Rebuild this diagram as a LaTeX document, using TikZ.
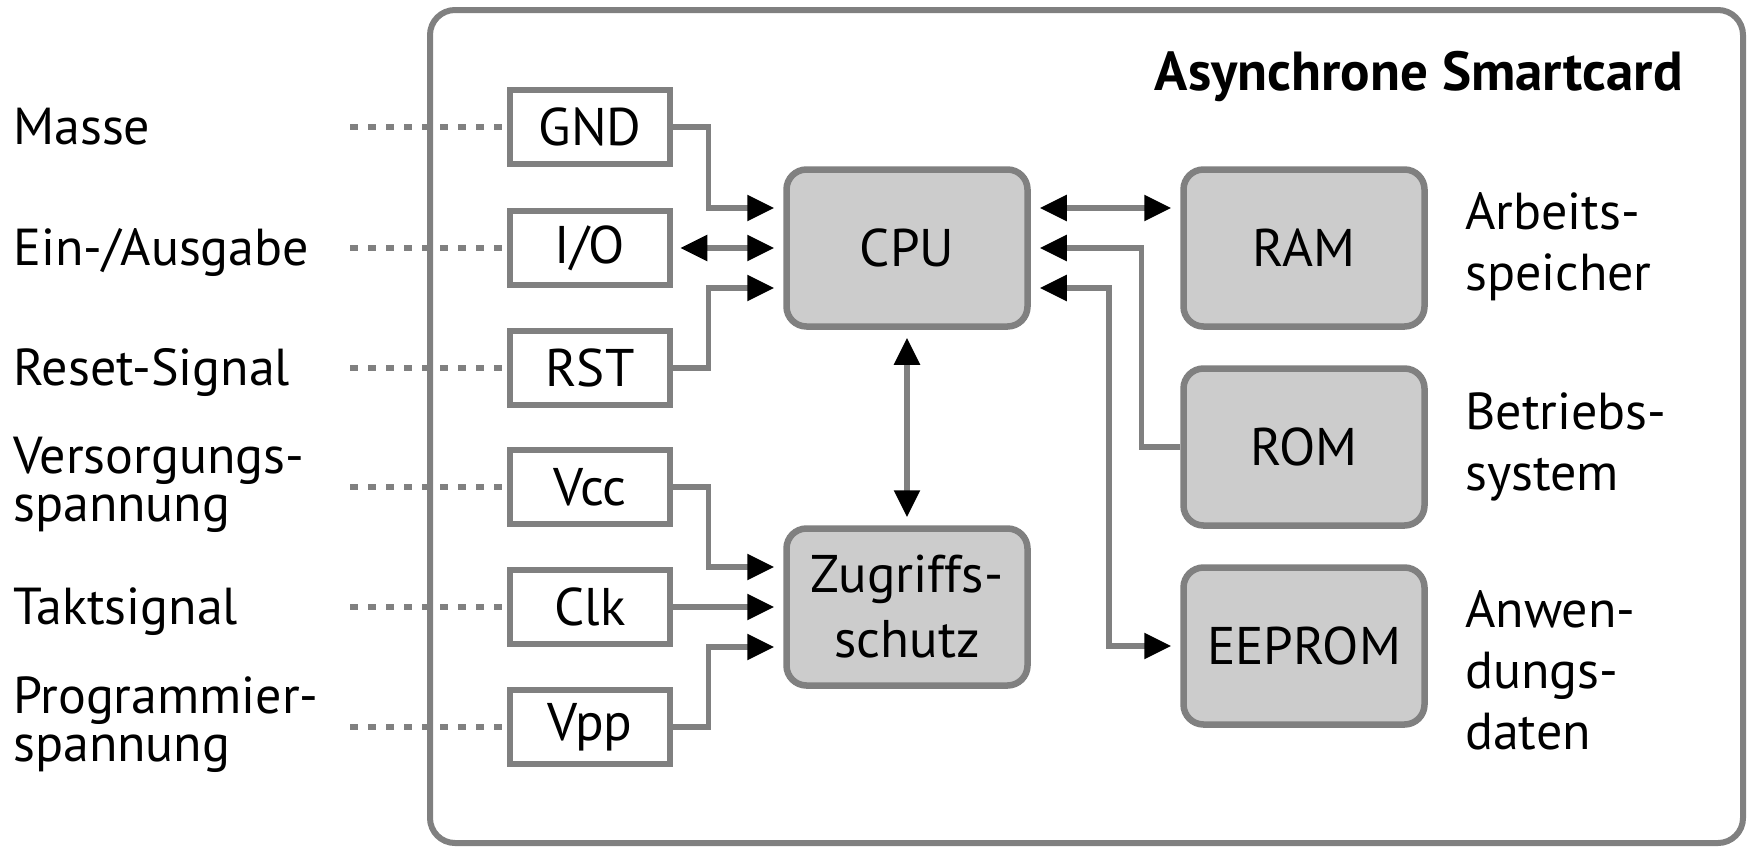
\documentclass[tikz,border=0pt]{standalone}
\usepackage{fontspec}
\setmainfont{PT Sans}
\usetikzlibrary{arrows.meta,calc}
\definecolor{lgray}{HTML}{808080}
\definecolor{boxfill}{HTML}{CCCCCC}
\tikzset{
  tip/.tip={Triangle[length=27pt,width=25pt,color=black]},
  conn/.style={draw=lgray, line width=5.5pt},
  pin/.style={draw=lgray, line width=6.5pt, fill=white, minimum width=160pt, minimum height=74pt, inner sep=0pt, font=\fontsize{53}{53}\selectfont},
  unit/.style={draw=lgray, fill=boxfill, rounded corners=20pt, line width=6.5pt, minimum width=241pt, minimum height=157pt, inner sep=0pt, align=center, font=\fontsize{53}{65}\selectfont},
  dotline/.style={draw=lgray, line width=6pt, dash pattern=on 8pt off 10pt},
  lab/.style={anchor=base west, inner sep=0pt, align=left, font=\fontsize{52}{48}\selectfont},
  rlab/.style={anchor=base west, inner sep=0pt, align=left, font=\fontsize{52}{61}\selectfont},
}
\begin{document}
\begin{tikzpicture}[x=1pt,y=-1pt]
\useasboundingbox (0,0) rectangle (1750,847);
\draw[draw=lgray, line width=6pt, rounded corners=25pt] (430,10) rectangle (1743,843);
\node[anchor=base east, inner sep=0pt, font=\fontsize{55}{55}\selectfont\bfseries] (title) at (1683,90) {Asynchrone Smartcard};
% pins
\node[pin] (gnd) at (590,127) {GND};
\node[pin] (io)  at (590,248) {I/O};
\node[pin] (rst) at (590,368) {RST};
\node[pin] (vcc) at (590,487) {Vcc};
\node[pin] (clk) at (590,607) {Clk};
\node[pin] (vpp) at (590,727) {Vpp};
% units
\node[unit] (cpu) at (907,248) {CPU};
\node[unit] (zug) at (907,607) {Zugriffs-\\schutz};
\node[unit] (ram) at (1304,248) {RAM};
\node[unit] (rom) at (1304,447) {ROM};
\node[unit] (eep) at (1304,646) {EEPROM};
% left labels (base = last line)
\node[lab] (lgnd) at (13,144) {Masse};
\node[lab] (lio)  at (13,265) {Ein-/Ausgabe};
\node[lab] (lrst) at (13,385) {Reset-Signal};
\node[lab] (lvcc) at (13,521) {Versorgungs-\\spannung};
\node[lab] (lclk) at (13,624) {Taktsignal};
\node[lab] (lvpp) at (13,761) {Programmier-\\spannung};
% right labels (base = last line)
\node[rlab] (lram) at (1465,290) {Arbeits-\\speicher};
\node[rlab] (lrom) at (1465,490) {Betriebs-\\system};
\node[rlab] (leep) at (1465,749) {Anwen-\\dungs-\\daten};
% dotted leads
\foreach \n in {gnd,io,rst,vcc,clk,vpp}{
  \coordinate (d\n) at (350,0 |- \n.west);
  \draw[dotline] (d\n) -- (\n.west);
}
% connectors to CPU
\draw[conn,-{tip},shorten >=9pt] (gnd.east) -- ++(35,0) |- ($(cpu.west)+(0,-40)$);
\draw[conn,{tip}-{tip},shorten >=9pt,shorten <=7pt] (io.east) -- (cpu.west);
\draw[conn,-{tip},shorten >=9pt] (rst.east) -- ++(35,0) |- ($(cpu.west)+(0,40)$);
% connectors to Zugriffsschutz
\draw[conn,-{tip},shorten >=9pt] (vcc.east) -- ++(35,0) |- ($(zug.west)+(0,-40)$);
\draw[conn,-{tip},shorten >=9pt] (clk.east) -- (zug.west);
\draw[conn,-{tip},shorten >=9pt] (vpp.east) -- ++(35,0) |- ($(zug.west)+(0,40)$);
\draw[conn,{tip}-{tip},shorten >=8pt,shorten <=8pt] (cpu.south) -- (zug.north);
% memories
\draw[conn,{tip}-{tip},shorten >=9pt,shorten <=9pt] ($(cpu.east)+(0,-40)$) -- ($(ram.west)+(0,-40)$);
\draw[conn,-{tip},shorten >=9pt] (rom.west) -- ++(-39,0) |- (cpu.east);
\draw[conn,{tip}-{tip},shorten >=9pt,shorten <=9pt] ($(cpu.east)+(0,40)$) -- ++(78,0) |- (eep.west);
\end{tikzpicture}
\end{document}
